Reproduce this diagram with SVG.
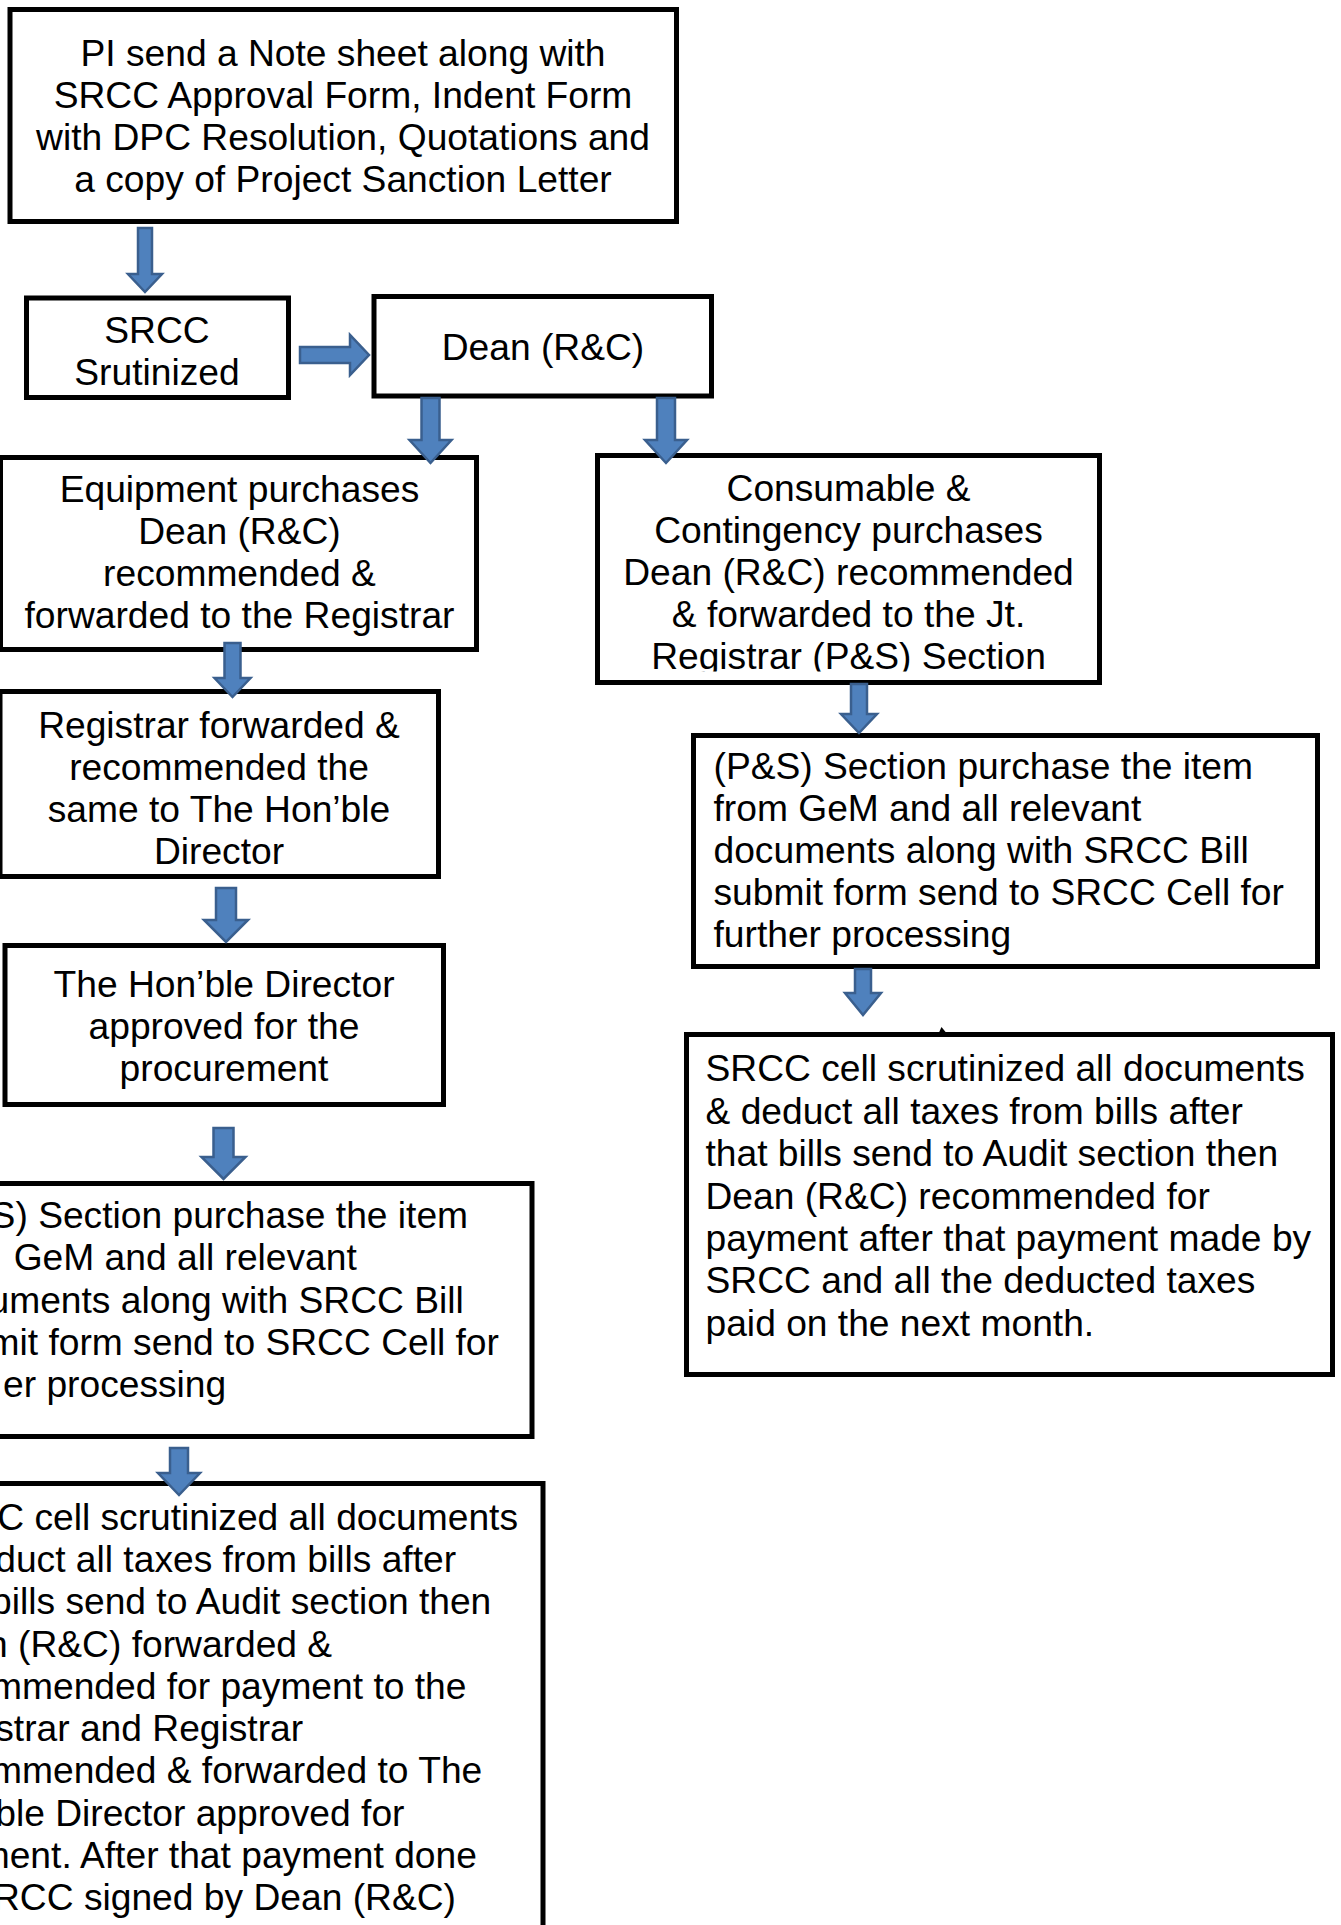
<svg xmlns="http://www.w3.org/2000/svg" width="1341" height="1925" viewBox="0 0 1341 1925">
  <style>
    .box { fill: #ffffff; stroke: #000000; stroke-width: 5; }
    .t { font-family: "Liberation Sans", Arial, sans-serif; font-size: 37.2px; fill: #000000; }
    .c { text-anchor: middle; }
    .arr { fill: #4F81BD; stroke: #3A5F8E; stroke-width: 2.5; stroke-linejoin: miter; }
  </style>
  <defs>
    <clipPath id="clipCons">
      <rect x="590" y="440" width="520" height="231.5"/>
    </clipPath>
  </defs>
  <rect x="0" y="0" width="1341" height="1925" fill="#ffffff"/>

  <g id="node-pi">
    <rect class="box" x="10" y="9.5" width="666.5" height="212"/>
    <text class="t c" x="343" y="65.5">PI send a Note sheet along with</text>
    <text class="t c" x="343" y="107.5">SRCC Approval Form, Indent Form</text>
    <text class="t c" x="343" y="149.5">with DPC Resolution, Quotations and</text>
    <text class="t c" x="343" y="191.5">a copy of Project Sanction Letter</text>
  </g>

  <g id="node-srcc-scrutinized">
    <rect class="box" x="26.5" y="298" width="262" height="99.5"/>
    <text class="t c" x="157" y="343">SRCC</text>
    <text class="t c" x="157" y="385">Srutinized</text>
  </g>

  <g id="node-dean">
    <rect class="box" x="374" y="296.5" width="337.5" height="99.5"/>
    <text class="t c" x="543" y="360">Dean (R&amp;C)</text>
  </g>

  <g id="node-equipment">
    <rect class="box" x="0.5" y="457.5" width="476" height="192"/>
    <text class="t c" x="239.5" y="501.5">Equipment purchases</text>
    <text class="t c" x="239.5" y="543.7">Dean (R&amp;C)</text>
    <text class="t c" x="239.5" y="586">recommended &amp;</text>
    <text class="t c" x="239.5" y="628">forwarded to the Registrar</text>
  </g>

  <g id="node-consumable">
    <rect class="box" x="597.5" y="455.5" width="502" height="227"/>
    <text class="t c" x="848.5" y="500.5">Consumable &amp;</text>
    <text class="t c" x="848.5" y="542.5">Contingency purchases</text>
    <text class="t c" x="848.5" y="585">Dean (R&amp;C) recommended</text>
    <text class="t c" x="848.5" y="627">&amp; forwarded to the Jt.</text>
    <text class="t c" x="848.5" y="669" clip-path="url(#clipCons)">Registrar (P&amp;S) Section</text>
  </g>

  <g id="node-registrar">
    <rect class="box" x="0" y="691.5" width="438.5" height="185"/>
    <text class="t c" x="219" y="737.5">Registrar forwarded &amp;</text>
    <text class="t c" x="219" y="780">recommended the</text>
    <text class="t c" x="219" y="822">same to The Hon’ble</text>
    <text class="t c" x="219" y="864">Director</text>
  </g>

  <g id="node-director">
    <rect class="box" x="5" y="945.5" width="438.5" height="159"/>
    <text class="t c" x="224" y="996.6">The Hon’ble Director</text>
    <text class="t c" x="224" y="1039">approved for the</text>
    <text class="t c" x="224" y="1081.4">procurement</text>
  </g>

  <g id="node-ps-left">
    <rect class="box" x="-92" y="1183.5" width="624" height="253"/>
    <text class="t" x="-9.4" y="1228">S) Section purchase the item</text>
    <text class="t" x="13.7" y="1270">GeM and all relevant</text>
    <text class="t" x="-11.5" y="1312.5">uments along with SRCC Bill</text>
    <text class="t" x="-11.5" y="1355">mit form send to SRCC Cell for</text>
    <text class="t" x="3" y="1397">er processing</text>
  </g>

  <g id="node-srcc-left">
    <rect class="box" x="-103" y="1483.5" width="646" height="520"/>
    <text class="t" x="-2.8" y="1529.6">C cell scrutinized all documents</text>
    <text class="t" x="-4.8" y="1571.9">duct all taxes from bills after</text>
    <text class="t" x="-9" y="1614.2">bills send to Audit section then</text>
    <text class="t" x="-13" y="1656.5">n (R&amp;C) forwarded &amp;</text>
    <text class="t" x="-9" y="1698.8">mmended for payment to the</text>
    <text class="t" x="-4.8" y="1741.1">strar and Registrar</text>
    <text class="t" x="-9" y="1783.4">mmended &amp; forwarded to The</text>
    <text class="t" x="-4.8" y="1825.7">ble Director approved for</text>
    <text class="t" x="-21.3" y="1868">ment. After that payment done</text>
    <text class="t" x="-7" y="1910.3">RCC signed by Dean (R&amp;C)</text>
  </g>

  <g id="node-ps-right">
    <rect class="box" x="693.5" y="735.5" width="624" height="231"/>
    <text class="t" x="713.5" y="779">(P&amp;S) Section purchase the item</text>
    <text class="t" x="713.5" y="821">from GeM and all relevant</text>
    <text class="t" x="713.5" y="863">documents along with SRCC Bill</text>
    <text class="t" x="713.5" y="905">submit form send to SRCC Cell for</text>
    <text class="t" x="713.5" y="947">further processing</text>
  </g>

  <g id="node-srcc-right">
    <rect class="box" x="686.5" y="1034.5" width="646" height="340"/>
    <text class="t" x="705.5" y="1081.4">SRCC cell scrutinized all documents</text>
    <text class="t" x="705.5" y="1123.8">&amp; deduct all taxes from bills after</text>
    <text class="t" x="705.5" y="1166.2">that bills send to Audit section then</text>
    <text class="t" x="705.5" y="1208.6">Dean (R&amp;C) recommended for</text>
    <text class="t" x="705.5" y="1251">payment after that payment made by</text>
    <text class="t" x="705.5" y="1293.4">SRCC and all the deducted taxes</text>
    <text class="t" x="705.5" y="1335.8">paid on the next month.</text>
  </g>

  <g id="connectors">
    <polygon class="arr" points="138,228 152,228 152,274 162,274 145,292 128,274 138,274"/>
    <polygon class="arr" points="300,347 350,347 350,335 369,355 350,375 350,363 300,363"/>
    <polygon class="arr" points="421.5,398 439.5,398 439.5,440 451.5,440 430.5,463 409.5,440 421.5,440"/>
    <polygon class="arr" points="657,398 675,398 675,440 687,440 666,463 645,440 657,440"/>
    <polygon class="arr" points="224.5,643 240.5,643 240.5,678 250.5,678 232.5,697 214.5,678 224.5,678"/>
    <polygon class="arr" points="216,888 236,888 236,920 248,920 226,942 204,920 216,920"/>
    <polygon class="arr" points="213.5,1128 233.5,1128 233.5,1157 245.5,1157 223.5,1179 201.5,1157 213.5,1157"/>
    <polygon class="arr" points="170,1448 188,1448 188,1473 200,1473 179,1495 158,1473 170,1473"/>
    <polygon class="arr" points="851,684 867,684 867,714 877,714 859,733 841,714 851,714"/>
    <polygon class="arr" points="855,969 871,969 871,993 881,993 863,1015 845,993 855,993"/>
    <polygon points="939,1032.5 941.5,1027 946,1032.5" fill="#000000"/>
  </g>
</svg>
